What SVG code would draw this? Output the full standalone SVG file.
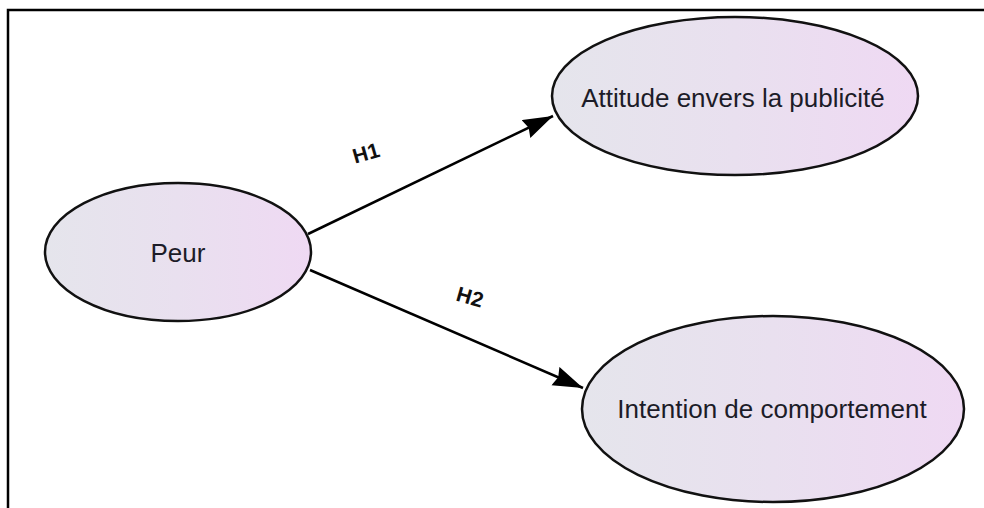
<svg xmlns="http://www.w3.org/2000/svg" width="984" height="508" viewBox="0 0 984 508">
  <defs>
    <linearGradient id="nodeFill" x1="0" y1="0" x2="1" y2="0">
      <stop offset="0" stop-color="#e5e5ec"/>
      <stop offset="0.5" stop-color="#e9e0ef"/>
      <stop offset="1" stop-color="#efd9f3"/>
    </linearGradient>
    <marker id="arrow" markerUnits="userSpaceOnUse" markerWidth="32" markerHeight="22" refX="30" refY="10" orient="auto">
      <path d="M0,0 L30,10 L0,20 L3,10 Z" fill="#000"/>
    </marker>
    <style>
      .node ellipse { fill: url(#nodeFill); stroke: #111; stroke-width: 2.5; }
      .label { font-family: "Liberation Sans", Arial, sans-serif; font-size: 26px; fill: #1c1c28; text-anchor: middle; }
      .edge { stroke: #000; stroke-width: 2.5; fill: none; marker-end: url(#arrow); }
      .elabel { font-family: "Liberation Sans", Arial, sans-serif; font-size: 21px; font-weight: bold; fill: #111; text-anchor: middle; }
    </style>
  </defs>
  <rect width="984" height="508" fill="#fff"/>
  <path d="M8,508 V10 H984" fill="none" stroke="#000" stroke-width="2.5"/>

  <g id="edges">
    <line class="edge" x1="308" y1="234" x2="553" y2="116"/>
    <line class="edge" x1="310" y1="270" x2="583" y2="388"/>
    <text class="elabel" transform="translate(368,160) rotate(-16)">H1</text>
    <text class="elabel" transform="translate(468,304) rotate(16)">H2</text>
  </g>

  <g id="peur" class="node">
    <ellipse cx="178" cy="252" rx="133" ry="69"/>
    <text class="label" x="178" y="262">Peur</text>
  </g>

  <g id="attitude" class="node">
    <ellipse cx="735" cy="96" rx="183" ry="79"/>
    <text class="label" x="733" y="107">Attitude envers la publicité</text>
  </g>

  <g id="intention" class="node">
    <ellipse cx="773" cy="409" rx="191" ry="93"/>
    <text class="label" x="772" y="418">Intention de comportement</text>
  </g>
</svg>
